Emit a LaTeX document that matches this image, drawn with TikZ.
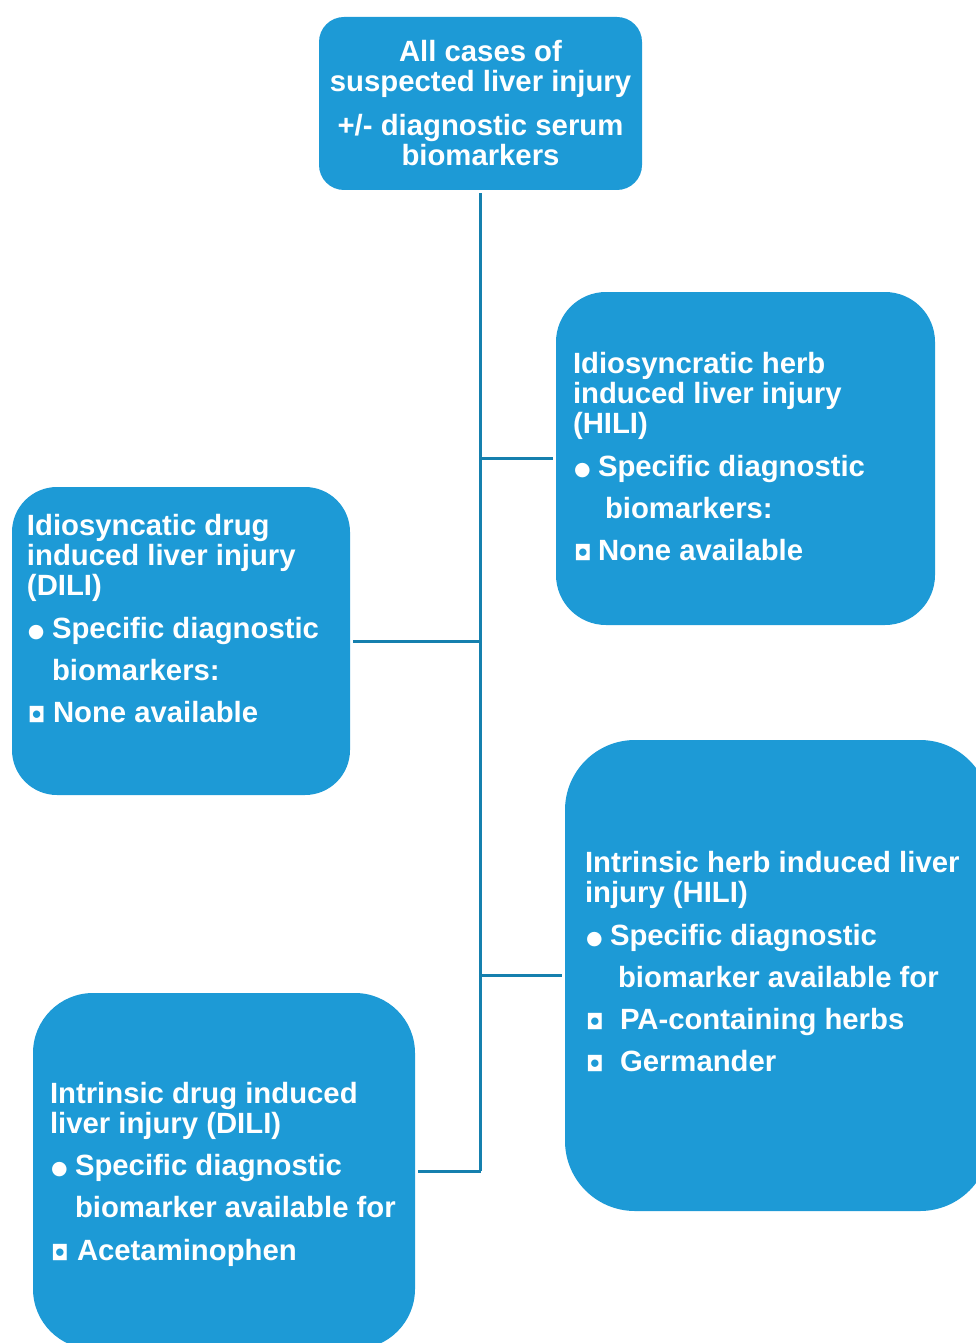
\documentclass[tikz,border=0pt]{standalone}
\usepackage{fontspec}
\setmainfont{Liberation Sans}
\newfontfamily\symfont{DejaVu Sans}
\usetikzlibrary{positioning}
\definecolor{boxblue}{HTML}{1D9AD6}
\definecolor{linkblue}{HTML}{1580AE}
\newcommand{\rndbul}{\hspace*{1pt}\makebox[24pt][l]{\raisebox{1pt}{\symfont\fontsize{19}{19}\selectfont ●}}}
\newcommand{\sqbul}[1]{\hspace*{1pt}\makebox[#1][l]{\symfont\fontsize{21}{21}\selectfont ◘}}
\tikzset{
	box/.style={fill=boxblue,inner sep=0pt},
	txt/.style={text=white,font=\bfseries\fontsize{29.3}{30}\selectfont,align=left,inner sep=0pt},
	link/.style={draw=linkblue,line width=3pt}
}
\begin{document}
\begin{tikzpicture}[x=1pt,y=-1pt]
		\path[use as bounding box] (0,0) rectangle (976,1343);
		\clip (0,0) rectangle (976,1343);
		\node[box,minimum width=323pt,minimum height=173pt,rounded corners=25pt] (top) at (480.5,103.5) {};
		\node[box,minimum width=379pt,minimum height=333pt,rounded corners=50pt] (hiliA) at (745.5,458.5) {};
		\node[box,minimum width=338pt,minimum height=308pt,rounded corners=45pt] (diliA) at (181,641) {};
		\node[box,minimum width=425pt,minimum height=471pt,rounded corners=70pt] (hiliB) at (777.5,975.5) {};
		\node[box,minimum width=382pt,minimum height=356pt,rounded corners=60pt] (diliB) at (224,1171) {};
		
		\node[txt,align=center] (topT) at (top) {All cases of\\suspected liver injury\\[14pt]+/- diagnostic serum\\biomarkers};
		\node[txt,below right=60pt and 17pt of hiliA.north west] (hiliAT) {Idiosyncratic herb\\induced liver injury\\(HILI)\\[13pt]
			\rndbul Specific diagnostic\\[12pt]\hspace*{32pt}biomarkers:\\[12pt]\sqbul{24pt}None available};
		\node[txt,below right=27pt and 15pt of diliA.north west] (diliAT) {Idiosyncatic drug\\induced liver injury\\(DILI)\\[13pt]
			\rndbul Specific diagnostic\\[12pt]\hspace*{25pt}biomarkers:\\[12pt]\sqbul{25pt}None available};
		\node[txt,below right=111pt and 20pt of hiliB.north west] (hiliBT) {Intrinsic herb induced liver\\injury (HILI)\\[13pt]
			\rndbul Specific diagnostic\\[12pt]\hspace*{33pt}biomarker available for\\[12pt]\sqbul{34pt}PA-containing herbs\\[12pt]\sqbul{34pt}Germander};
		\node[txt,below right=89pt and 17pt of diliB.north west] (diliBT) {Intrinsic drug induced\\liver injury (DILI)\\[12pt]
			\rndbul Specific diagnostic\\[12pt]\hspace*{25pt}biomarker available for\\[13pt]\sqbul{26pt}Acetaminophen};
		
		\draw[link,shorten <=3pt] (top.south) -- (top.south |- diliB.east);
		\foreach \b/\s in {hiliA/west,diliA/east,hiliB/west,diliB/east}
		\draw[link,shorten >=3pt] (top.south |- \b.\s) -- (\b.\s);
		
	\end{tikzpicture}
\end{document}
